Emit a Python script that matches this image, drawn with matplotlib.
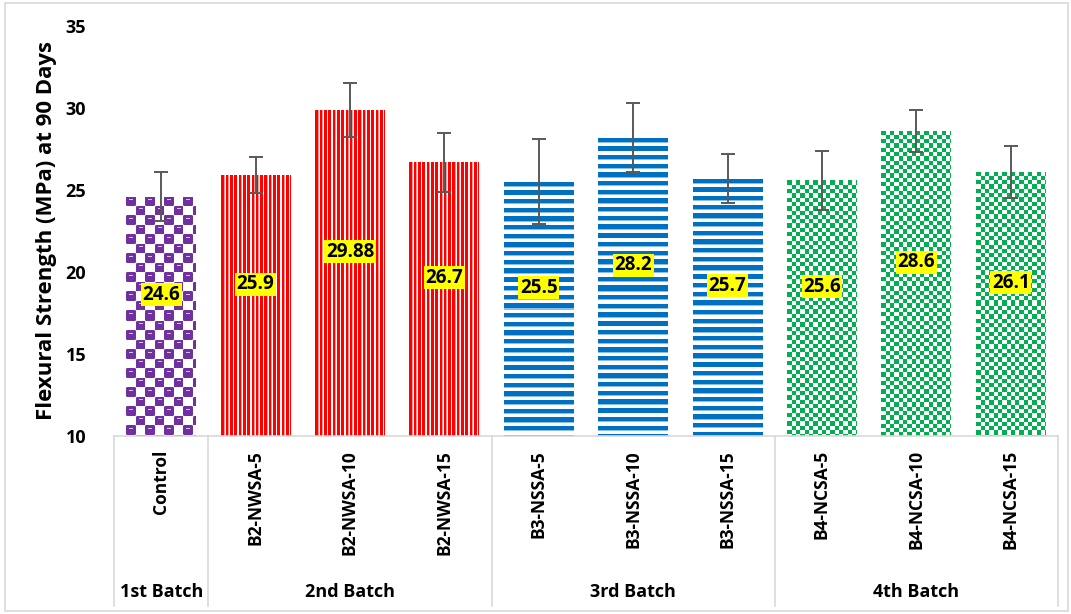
import numpy as np
import matplotlib
matplotlib.use("Agg")
import matplotlib.pyplot as plt
from matplotlib.patches import Rectangle
from matplotlib.lines import Line2D
import matplotlib.transforms as mtransforms

plt.rcParams['font.family'] = ['Open Sans', 'DejaVu Sans']
plt.rcParams['font.weight'] = 'bold'

# mixes and their 90-day flexural strength (MPa) with scatter
categories = ['Control', 'B2-NWSA-5', 'B2-NWSA-10', 'B2-NWSA-15',
              'B3-NSSA-5', 'B3-NSSA-10', 'B3-NSSA-15',
              'B4-NCSA-5', 'B4-NCSA-10', 'B4-NCSA-15']
strength = [24.6, 25.9, 29.88, 26.7, 25.5, 28.2, 25.7, 25.6, 28.6, 26.1]
errors = [1.5, 1.1, 1.65, 1.8, 2.6, 2.1, 1.5, 1.8, 1.3, 1.6]
value_labels = ['24.6', '25.9', '29.88', '26.7', '25.5', '28.2', '25.7', '25.6', '28.6', '26.1']

batches = ['1st Batch', '2nd Batch', '3rd Batch', '4th Batch']
batch_sizes = [1, 3, 3, 3]
batch_fill = ['spheres', 'vstripes', 'hstripes', 'checker']

y_ticks = [10, 15, 20, 25, 30, 35]

PURPLE = np.array([0x70, 0x30, 0xA0]) / 255
RED = np.array([1.0, 0.0, 0.0])
BLUE = np.array([0x00, 0x70, 0xC0]) / 255
GREEN = np.array([0x00, 0xB0, 0x50]) / 255
GRID = '#D9D9D9'


def make_pattern(kind, w, h):
    """Pixel fill similar to the Office pattern fills."""
    yy, xx = np.mgrid[0:h, 0:w].astype(float)
    img = np.ones((h, w, 3))
    if kind == 'spheres':
        cell = 9.5
        cx, cy = (xx / cell) % 1, (yy / cell) % 1
        on = ((xx // cell + yy // cell) % 2) == 0
        img[on] = PURPLE
        corner = on & (((cx < 0.1) | (cx > 0.9)) & ((cy < 0.1) | (cy > 0.9)))
        img[corner] = 0.6 * PURPLE + 0.4
        shine = on & (cx > 0.3) & (cx < 0.7) & (cy > 0.22) & (cy < 0.36)
        img[shine] = 0.3 * PURPLE + 0.7
    elif kind == 'vstripes':
        f = (xx / 4.3) % 1
        img[f < 0.6] = RED
        img[(f >= 0.6) & (f < 0.72)] = [1.0, 0.6, 0.6]
    elif kind == 'hstripes':
        f = (yy / 8.7) % 1
        img[f < 0.5] = BLUE
        img[(f >= 0.5) & (f < 0.6)] = [0.55, 0.75, 0.9]
    else:
        cell = 4.3
        on = ((xx // cell + yy // cell) % 2) == 0
        img[on] = GREEN
    return img


fig = plt.figure(figsize=(10.71, 6.14), dpi=100)
fig.patches.append(Rectangle((5 / 1071, 3 / 614), 1063 / 1071, 608 / 614,
                             transform=fig.transFigure, fill=False,
                             edgecolor=GRID, linewidth=1.2))
ax = fig.add_axes([114 / 1071, 178 / 614, 944 / 1071, 410 / 614])

x = np.arange(len(categories))
ax.set_xlim(-0.5, len(categories) - 0.5)
ax.set_ylim(y_ticks[0], y_ticks[-1])

kinds = []
for kind, n in zip(batch_fill, batch_sizes):
    kinds += [kind] * n

bars = ax.bar(x, strength, width=0.74, facecolor='none', edgecolor='none')
for bar, kind in zip(bars, kinds):
    left, right = bar.get_x(), bar.get_x() + bar.get_width()
    top = bar.get_height()
    p0 = ax.transData.transform((left, y_ticks[0]))
    p1 = ax.transData.transform((right, top))
    w_px = max(int(round(p1[0] - p0[0])), 1)
    h_px = max(int(round(p1[1] - p0[1])), 1)
    im = ax.imshow(make_pattern(kind, w_px, h_px), extent=(left, right, y_ticks[0], top),
                   aspect='auto', interpolation='nearest', zorder=2)
    im.set_clip_path(bar)

ax.errorbar(x, strength, yerr=errors, fmt='none', ecolor='#595959',
            elinewidth=1.4, capsize=5, capthick=1.4, zorder=4)

for xi, v, lab in zip(x, strength, value_labels):
    ax.text(xi, (y_ticks[0] + v) / 2 + 1.3, lab, ha='center', va='center',
            fontsize=13.5, fontweight='bold', color='black', zorder=5,
            bbox=dict(boxstyle='square,pad=0.08', facecolor='#FFFF00', edgecolor='none'))

ax.set_yticks(y_ticks)
ax.set_yticklabels([str(t) for t in y_ticks], fontsize=13, fontweight='bold')
ax.set_xticks(x)
ax.set_xticklabels(categories, rotation=90, fontsize=12.5, fontweight='bold',
                   va='top', ha='center')
ax.tick_params(axis='y', length=0, pad=20)
ax.tick_params(axis='x', length=0, pad=10)

ax.set_ylabel('Flexural Strength (MPa) at 90 Days', fontsize=16, fontweight='bold',
              labelpad=6)

for side in ['top', 'right', 'left']:
    ax.spines[side].set_visible(False)
ax.spines['bottom'].set_color(GRID)
ax.spines['bottom'].set_linewidth(1.2)

# batch separators and batch names below the category labels
trans = mtransforms.blended_transform_factory(ax.transData, ax.transAxes)
edges = np.concatenate([[0], np.cumsum(batch_sizes)]) - 0.5
for e in edges:
    ax.add_line(Line2D([e, e], [0, -0.415], transform=trans, color=GRID,
                       linewidth=1.2, clip_on=False))
for name, a, b in zip(batches, edges[:-1], edges[1:]):
    ax.text((a + b) / 2, -0.38, name, transform=trans, ha='center', va='center',
            fontsize=13, fontweight='bold')

fig.savefig('out.png', dpi=100)
